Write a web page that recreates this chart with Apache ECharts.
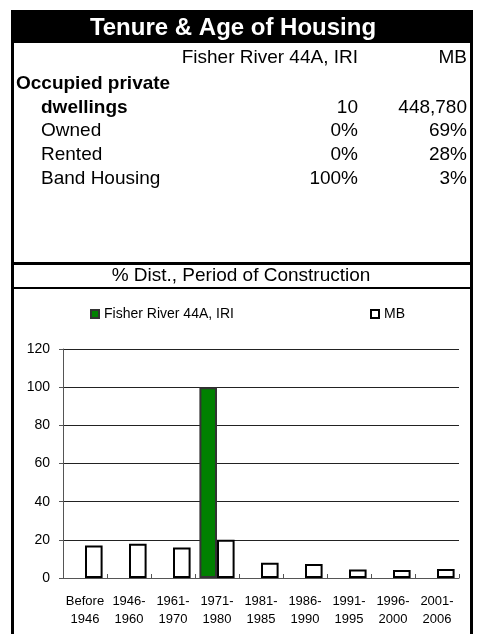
<!DOCTYPE html>
<html>
<head>
<meta charset="utf-8">
<script src="https://cdn.jsdelivr.net/npm/echarts@6/dist/echarts.min.js"></script>
<style>
html,body{margin:0;padding:0;background:#fff;}
#c{width:477px;height:634px;}
</style>
</head>
<body>
<div id="c"></div>
<script>
var title = 'Tenure & Age of Housing';
var colHeaders = ['Fisher River 44A, IRI', 'MB'];
var rowLabels = ['Owned', 'Rented', 'Band Housing'];
var dwellings = ['10', '448,780'];
var fisherTenure = ['0%', '0%', '100%'];
var mbTenure = ['69%', '28%', '3%'];
var chartTitle = '% Dist., Period of Construction';
var categories = ['Before\n1946', '1946-\n1960', '1961-\n1970', '1971-\n1980', '1981-\n1985', '1986-\n1990', '1991-\n1995', '1996-\n2000', '2001-\n2006'];
var fisherValues = [0, 0, 0, 100, 0, 0, 0, 0, 0];
var mbValues = [17, 18, 16, 20, 8, 7.3, 4.5, 4.2, 4.7];
var seriesNames = ['Fisher River 44A, IRI', 'MB'];

var FONT = '"Liberation Sans", Arial, sans-serif';
var chart = echarts.init(document.getElementById('c'));

var g = [];
g.push({type:'rect', shape:{x:11, y:10, width:462, height:33}, style:{fill:'#000'}});
g.push({type:'rect', shape:{x:11, y:10, width:3, height:630}, style:{fill:'#000'}});
g.push({type:'rect', shape:{x:470, y:10, width:3, height:630}, style:{fill:'#000'}});
g.push({type:'rect', shape:{x:11, y:262, width:462, height:3}, style:{fill:'#000'}});
g.push({type:'rect', shape:{x:11, y:287, width:462, height:2}, style:{fill:'#000'}});

function txt(s, x, y, align, bold, size, color) {
  g.push({type:'text', x:x, y:y, style:{text:s, fill:color || '#000', font:(bold?'bold ':'') + (size||19) + 'px ' + FONT, textAlign:align, textVerticalAlign:'middle'}});
}
txt(title, 233, 28, 'center', true, 24, '#fff');
txt(colHeaders[0], 358, 58, 'right');
txt(colHeaders[1], 467, 58, 'right');
txt('Occupied private', 16, 84, 'left', true);
txt('dwellings', 41, 108, 'left', true);
txt(dwellings[0], 358, 108, 'right');
txt(dwellings[1], 467, 108, 'right');
for (var i = 0; i < rowLabels.length; i++) {
  var yy = 131 + i * 24;
  txt(rowLabels[i], 41, yy, 'left');
  txt(fisherTenure[i], 358, yy, 'right');
  txt(mbTenure[i], 467, yy, 'right');
}
txt(chartTitle, 241, 276, 'center', false, 19);

function toData(arr) {
  return arr.map(function (v) { return v === 0 ? {value: 0, itemStyle: {borderWidth: 0}} : v; });
}

chart.setOption({
  animation: false,
  textStyle: {fontFamily: FONT},
  graphic: g,
  legend: [
    {data:[seriesNames[0]], icon:'rect', left:85, top:302, itemWidth:8, itemHeight:8, itemGap:0,
     textStyle:{fontSize:14, color:'#000', fontFamily:FONT}},
    {data:[seriesNames[1]], icon:'rect', left:365, top:302, itemWidth:8, itemHeight:8, itemGap:0,
     textStyle:{fontSize:14, color:'#000', fontFamily:FONT}}
  ],
  grid: {left:63, right:18, top:349, bottom:56, containLabel:false},
  xAxis: {
    type:'category', data:categories,
    axisLine:{lineStyle:{color:'#555', width:1}},
    axisTick:{show:true, inside:true, length:4, lineStyle:{color:'#555'}},
    axisLabel:{color:'#000', fontSize:13, fontFamily:FONT, lineHeight:18, margin:14, interval:0}
  },
  yAxis: {
    type:'value', min:0, max:120, interval:20,
    axisLine:{show:true, lineStyle:{color:'#555', width:1}},
    axisTick:{show:true, length:4, lineStyle:{color:'#555'}},
    axisLabel:{color:'#000', fontSize:14, fontFamily:FONT, margin:13},
    splitLine:{lineStyle:{color:'#222', width:1}}
  },
  series: [
    {name:seriesNames[0], type:'bar', data:toData(fisherValues), barGap:'0%', barCategoryGap:'20%',
     itemStyle:{color:'#008000', borderColor:'#333', borderWidth:2}},
    {name:seriesNames[1], type:'bar', data:toData(mbValues), barGap:'0%', barCategoryGap:'20%',
     itemStyle:{color:'#fff', borderColor:'#000', borderWidth:2}}
  ]
});
</script>
</body>
</html>
